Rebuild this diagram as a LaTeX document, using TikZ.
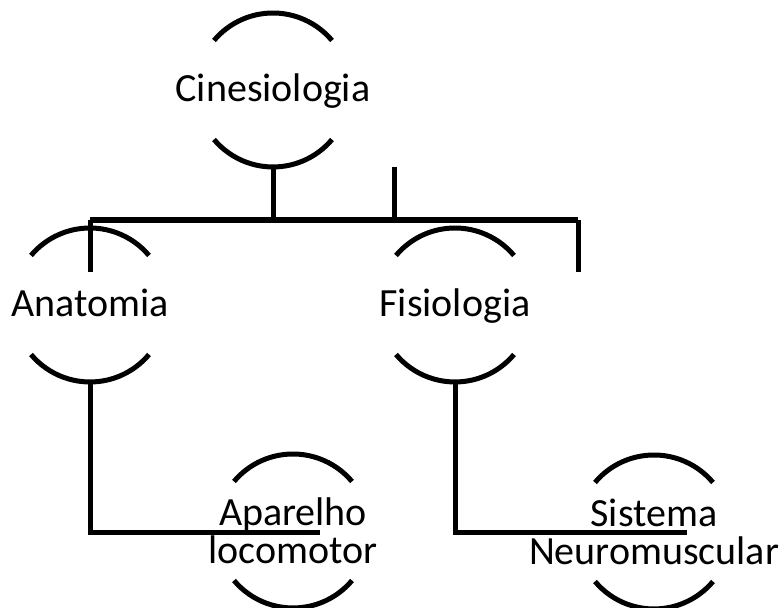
\documentclass[tikz,border=0pt]{standalone}
\usepackage{fontspec}
\setmainfont{Carlito}
\usepackage{tikz}
\tikzset{
    area/.style={font=\fontsize{20}{24}\selectfont, inner sep=0pt,
        text height=15pt, text depth=3pt},
    subarea/.style={font=\fontsize{20}{19}\selectfont, inner sep=0pt, align=center},
    pics/brackets/.style={
    code = {
        \draw[line width=2.5pt] (40:77) arc[start angle=40, end angle=140, radius=77];
        \draw[line width=2.5pt] (220:77) arc[start angle=220, end angle=320, radius=77];
    }}
}
\begin{document}
\begin{tikzpicture}[x=0.5pt, y=0.5pt, line width=2.5pt]
    \useasboundingbox (0,0) rectangle (783,608);

    \node[area] (cin) at (273,518) {Cinesiologia};
    \node[area] (ana) at (90,303) {Anatomia};
    \node[area] (fis) at (455,303) {Fisiologia};
    \node[subarea] (apa) at (293,77) {Aparelho\\locomotor};
    \node[subarea] (sis) at (654,76) {Sistema\\Neuromuscular};

    \path (cin.center) pic {brackets};
    \path (ana.center) pic {brackets};
    \path (fis.center) pic {brackets};
    \path (apa.center) pic {brackets};
    \path (sis.center) pic {brackets};

    % lines
    \coordinate (barL) at (90,388);
    \coordinate (barR) at (578,388);
    \coordinate (stub) at (394,441);
    \coordinate (apaEnd) at (320,75);
    \coordinate (sisEnd) at (687,75);

    \draw ([yshift=-38.5pt]cin.center) -- (cin.center |- barL);
    \draw (stub) -- (stub |- barL);
    \draw[line width=3pt] (barL) -- (barR);
    \draw ([yshift=-26pt]barL) -- (barL);
    \draw ([yshift=-26pt]barR) -- (barR);
    \draw ([yshift=-38.5pt]ana.center) |- (apaEnd);
    \draw ([yshift=-38.5pt]fis.center) |- (sisEnd);
\end{tikzpicture}
\end{document}
